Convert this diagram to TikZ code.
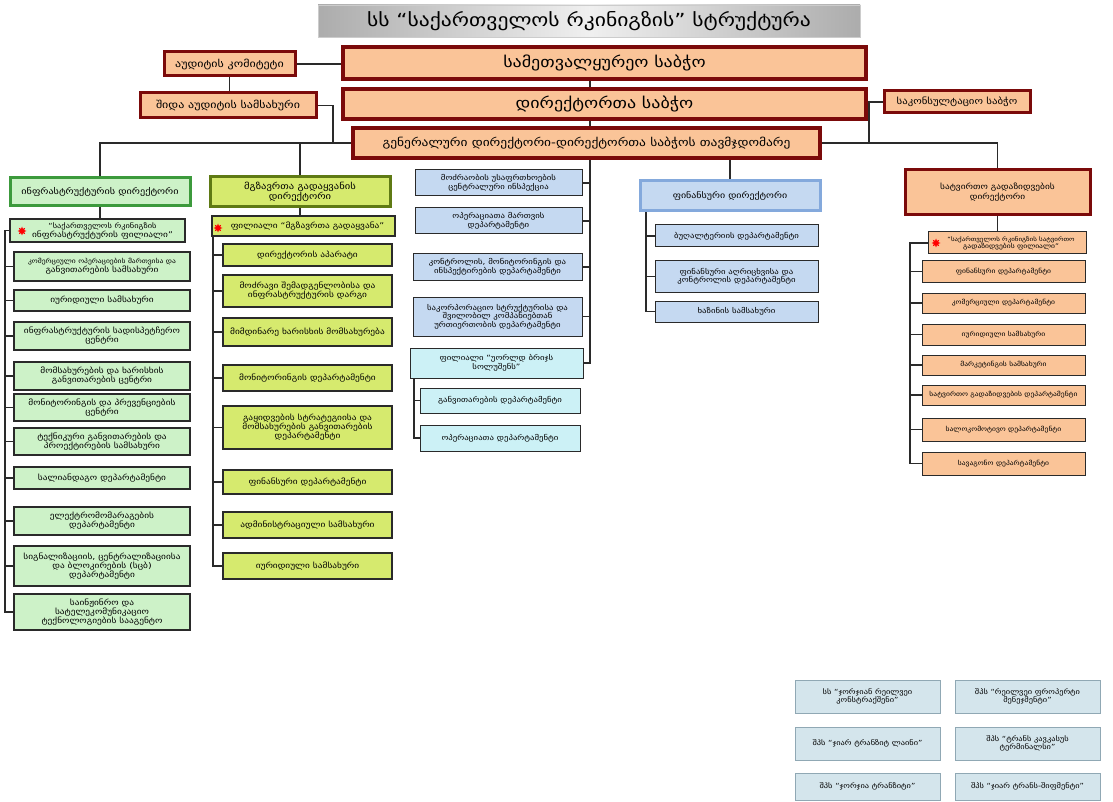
\documentclass[tikz,border=0pt]{standalone}
\usepackage{fontspec}
\setmainfont[FakeStretch=1.2]{DejaVu Sans}
\usetikzlibrary{shapes.geometric}
\definecolor{peach}{HTML}{FAC498}
\definecolor{darkred}{HTML}{7B0A0A}
\definecolor{gborder}{HTML}{3C9A3C}
\definecolor{gfill}{HTML}{CDF2C8}
\definecolor{yfill}{HTML}{D6EA6E}
\definecolor{yborder}{HTML}{5F7A14}
\definecolor{bfill}{HTML}{C5D9F1}
\definecolor{bborder}{HTML}{84A9DC}
\definecolor{cfill}{HTML}{CCF1F6}
\definecolor{qfill}{HTML}{D4E5EC}
\definecolor{qborder}{HTML}{90A8B4}
\definecolor{edge}{HTML}{2A2A2A}
\newcommand\BX[7]{\node[#1, minimum width={(#4-#3)*1pt}, minimum height={(#6-#5)*1pt}] (#2) at ({(#3+#4)/2},{(#5+#6)/2}) {#7};}
\tikzset{
  base/.style={draw=edge, line width=1.3pt, align=center, inner sep=1pt, font=\fontsize{7.8}{9}\selectfont},
  title/.style={draw=gray!40, line width=0.6pt, left color=gray!65, right color=gray!65, middle color=gray!12, align=center, inner sep=1pt, font=\fontsize{18}{20}\selectfont},
  rbig/.style={base, fill=peach, draw=darkred, line width=4pt, font=\fontsize{15}{17}\selectfont},
  rmid/.style={base, fill=peach, draw=darkred, line width=3pt, font=\fontsize{10}{12}\selectfont},
  rgd/.style={base, fill=peach, draw=darkred, line width=4pt, font=\fontsize{11.2}{13}\selectfont},
  rdir/.style={base, fill=peach, draw=darkred, line width=3pt, font=\fontsize{7.8}{10}\selectfont},
  rch/.style={base, fill=peach, line width=1pt, font=\fontsize{6.3}{7.3}\selectfont},
  gdir/.style={base, fill=gfill, draw=gborder, line width=3pt, font=\fontsize{8.5}{10}\selectfont},
  gch/.style={base, fill=gfill},
  ydir/.style={base, fill=yfill, draw=yborder, line width=3pt, font=\fontsize{8.8}{10.5}\selectfont},
  ych/.style={base, fill=yfill},
  bch/.style={base, fill=bfill, line width=1pt, font=\fontsize{7.3}{8.6}\selectfont},
  bdir/.style={base, fill=bfill, draw=bborder, line width=3pt, font=\fontsize{8.3}{10}\selectfont},
  cch/.style={base, fill=cfill, line width=1pt, font=\fontsize{7.3}{8.6}\selectfont},
  qbox/.style={base, fill=qfill, draw=qborder, line width=0.8pt, font=\fontsize{7}{8.5}\selectfont},
  starmark/.style={star, star points=8, star point ratio=1.9, fill=red, draw=none, minimum size=9pt, inner sep=0pt},
  ln/.style={draw=edge, line width=1.1pt}
}
\begin{document}
\begin{tikzpicture}[x=1pt,y=-1pt]
\useasboundingbox (0,0) rectangle (1113,802);
\fill[white] (0,0) rectangle (1113,802);
% top
\BX{title}{ttl}{318}{860}{5}{37}{სს “საქართველოს რკინიგზის” სტრუქტურა}
\BX{rmid}{ak}{164}{295}{52}{76}{აუდიტის კომიტეტი}
\BX{rbig}{sb}{343}{866}{47}{79}{სამეთვალყურეო საბჭო}
\BX{rmid}{sia}{140}{316}{93}{118}{შიდა აუდიტის სამსახური}
\BX{rbig}{ds}{343}{866}{89}{119}{დირექტორთა საბჭო}
\BX{rmid}{sk}{884}{1030}{91}{113}{\fontsize{9}{11}\selectfont საკონსულტაციო საბჭო}
\BX{rgd}{gd}{353}{820}{128}{158}{გენერალური დირექტორი-დირექტორთა საბჭოს თავმჯდომარე}
% column 1
\BX{gdir}{inf}{10}{190}{178}{206}{ინფრასტრუქტურის დირექტორი}
\BX{gch}{ibr}{10}{185}{219}{242}{\fontsize{7}{8}\selectfont\hspace*{10pt}“საქართველოს რკინიგზის\\\hspace*{10pt}ინფრასტრუქტურის ფილიალი”}
\BX{gch}{c1}{14}{190}{252}{281}{\fontsize{6.3}{7.5}\selectfont კომერციული ოპერაციების მართვისა და\\განვითარების სამსახური}
\BX{gch}{c2}{14}{190}{290}{311}{იურიდიული სამსახური}
\BX{gch}{c3}{14}{190}{322}{350}{ინფრასტრუქტურის სადისპეტჩერო\\ცენტრი}
\BX{gch}{c4}{14}{190}{362}{390}{მომსახურების და ხარისხის\\განვითარების ცენტრი}
\BX{gch}{c5}{14}{190}{394}{421}{მონიტორინგის და პრევენციების\\ცენტრი}
\BX{gch}{c6}{14}{190}{428}{455}{ტექნიკური განვითარების და\\პროექტირების სამსახური}
\BX{gch}{c7}{14}{190}{467}{489}{სალიანდაგო დეპარტამენტი}
\BX{gch}{c8}{14}{190}{507}{535}{ელექტრომომარაგების\\დეპარტამენტი}
\BX{gch}{c9}{14}{190}{546}{586}{სიგნალიზაციის, ცენტრალიზაციისა\\და ბლოკირების (სცბ)\\დეპარტამენტი}
\BX{gch}{c10}{14}{190}{594}{630}{საინჟინრო და\\სატელეკომუნიკაციო\\ტექნოლოგიების სააგენტო}
\node[starmark] (s1) at (22,231) {};
% column 2
\BX{ydir}{pd}{210}{390}{177}{207}{მგზავრთა გადაყვანის\\დირექტორი}
\BX{ych}{pbr}{212}{395}{216}{236}{\hspace*{8pt}ფილიალი “მგზავრთა გადაყვანა”}
\BX{ych}{p1}{223}{392}{244}{266}{დირექტორის აპარატი}
\BX{ych}{p2}{223}{392}{275}{307}{მოძრავი შემადგენლობისა და\\ინფრასტრუქტურის დარგი}
\BX{ych}{p3}{223}{392}{318}{346}{მიმდინარე ხარისხის მომსახურება}
\BX{ych}{p4}{223}{392}{365}{391}{მონიტორინგის დეპარტამენტი}
\BX{ych}{p5}{223}{392}{406}{449}{გაყიდვების სტრატეგიისა და\\მომსახურების განვითარების\\დეპარტამენტი}
\BX{ych}{p6}{223}{392}{470}{494}{ფინანსური დეპარტამენტი}
\BX{ych}{p7}{223}{392}{512}{538}{ადმინისტრაციული სამსახური}
\BX{ych}{p8}{223}{392}{553}{579}{იურიდიული სამსახური}
\node[starmark] (s2) at (218,228) {};
% column 3
\BX{bch}{b1}{415}{582}{170}{196}{მოძრაობის უსაფრთხოების\\ცენტრალური ინსპექცია}
\BX{bch}{b2}{415}{582}{208}{234}{ოპერაციათა მართვის\\დეპარტამენტი}
\BX{bch}{b3}{413}{582}{254}{280}{კონტროლის, მონიტორინგის და\\ინსპექტირების დეპარტამენტი}
\BX{bch}{b4}{413}{582}{297}{336}{საკორპორაციო სტრუქტურისა და\\შვილობილ კომპანიებთან\\ურთიერთობის დეპარტამენტი}
\BX{cch}{b5}{410}{583}{348}{378}{ფილიალი “უორლდ ბრიჯს\\სოლუშენს”}
\BX{cch}{b6}{420}{580}{388}{413}{განვითარების დეპარტამენტი}
\BX{cch}{b7}{420}{580}{425}{451}{ოპერაციათა დეპარტამენტი}
% column 4
\BX{bdir}{fd}{640}{820}{181}{211}{ფინანსური დირექტორი}
\BX{bch}{f1}{655}{818}{225}{247}{ბუღალტერიის დეპარტამენტი}
\BX{bch}{f2}{655}{818}{261}{292}{ფინანსური აღრიცხვისა და\\კონტროლის დეპარტამენტი}
\BX{bch}{f3}{655}{818}{301}{322}{ხაზინის სამსახური}
% column 5
\BX{rdir}{rd}{905}{1090}{170}{215}{სატვირთო გადაზიდვების\\დირექტორი}
\BX{rch}{rbr}{928}{1086}{232}{254}{\fontsize{5.8}{6.8}\selectfont\hspace*{8pt}“საქართველოს რკინიგზის სატვირთო\\\hspace*{8pt}გადაზიდვების ფილიალი”}
\BX{rch}{r1}{922}{1085}{261}{282}{ფინანსური დეპარტამენტი}
\BX{rch}{r2}{922}{1085}{293}{313}{კომერციული დეპარტამენტი}
\BX{rch}{r3}{922}{1085}{324}{345}{იურიდიული სამსახური}
\BX{rch}{r4}{922}{1085}{355}{375}{მარკეტინგის სამსახური}
\BX{rch}{r5}{922}{1085}{385}{405}{სატვირთო გადაზიდვების დეპარტამენტი}
\BX{rch}{r6}{922}{1085}{418}{441}{სალოკომოტივო დეპარტამენტი}
\BX{rch}{r7}{922}{1085}{452}{475}{სავაგონო დეპარტამენტი}
\node[starmark] (s3) at (936,243) {};
% bottom right
\BX{qbox}{q1}{795}{940}{680}{713}{სს “ჯორჯიან რეილვეი\\კონსტრაქშენი”}
\BX{qbox}{q2}{955}{1100}{680}{713}{შპს “რეილვეი ფროპერტი\\მენეჯმენტი”}
\BX{qbox}{q3}{795}{940}{727}{760}{შპს “ჯიარ ტრანზიტ ლაინი”}
\BX{qbox}{q4}{955}{1100}{727}{760}{შპს “ტრანს კავკასუს\\ტერმინალსი”}
\BX{qbox}{q5}{795}{940}{773}{800}{შპს “ჯორჯია ტრანზიტი”}
\BX{qbox}{q6}{955}{1100}{773}{800}{შპს “ჯიარ ტრანს-შიფმენტი”}
% connectors
\coordinate (cx) at (590,0);
\coordinate (ja) at (333,143);
\coordinate (jk) at (869,102);
\coordinate (bA) at (5,0);
\coordinate (bB) at (213,0);
\coordinate (bC) at (414,0);
\coordinate (bD) at (646,0);
\coordinate (bE) at (910,0);
\draw[ln] (ak.east) -- (ak.east -| sb.west);
\draw[ln] (ak.south) -- (ak.south |- sia.north);
\draw[ln] (sia.east) -| (ja);
\draw[ln] (sb.south -| cx) -- (ds.north -| cx);
\draw[ln] (ds.south -| cx) -- (gd.north -| cx);
\draw[ln] (sk.west) -- (sk.west -| ds.east);
\draw[ln] (sk.west -| jk) -- (jk |- gd.east);
\draw[ln] (gd.west) -- (gd.west -| inf.north) -- (inf.north);
\draw[ln] (gd.west -| pd.north) -- (pd.north);
\draw[ln] (gd.east) -- (gd.east -| rd.north) -- (rd.north);
\draw[ln] (gd.south -| fd.north) -- (fd.north);
\draw[ln] (gd.south -| cx) -- (b5.east -| cx) -- (b5.east);
\foreach \n in {b1,b2,b3,b4} \draw[ln] (\n.east) -- (\n.east -| cx);
\draw[ln] (b5.south -| bC) -- (b7.west -| bC) -- (b7.west);
\draw[ln] (b6.west -| bC) -- (b6.west);
\draw[ln] (inf.south) -- (inf.south |- ibr.north);
\draw[ln] (ibr.west) -- (ibr.west -| bA) -- (c10.west -| bA) -- (c10.west);
\foreach \n in {c1,c2,c3,c4,c5,c6,c7,c8,c9} \draw[ln] (\n.west -| bA) -- (\n.west);
\draw[ln] (pd.south) -- (pd.south |- pbr.north);
\draw[ln] (pbr.south -| bB) -- (p8.west -| bB) -- (p8.west);
\foreach \n in {p1,p2,p3,p4,p5,p6,p7} \draw[ln] (\n.west -| bB) -- (\n.west);
\draw[ln] (fd.south -| bD) -- (f3.west -| bD) -- (f3.west);
\foreach \n in {f1,f2} \draw[ln] (\n.west -| bD) -- (\n.west);
\draw[ln] (rd.south) -- (rd.south |- rbr.north);
\draw[ln] (rbr.west) -- (rbr.west -| bE) -- (r7.west -| bE) -- (r7.west);
\foreach \n in {r1,r2,r3,r4,r5,r6} \draw[ln] (\n.west -| bE) -- (\n.west);
\end{tikzpicture}
\end{document}
